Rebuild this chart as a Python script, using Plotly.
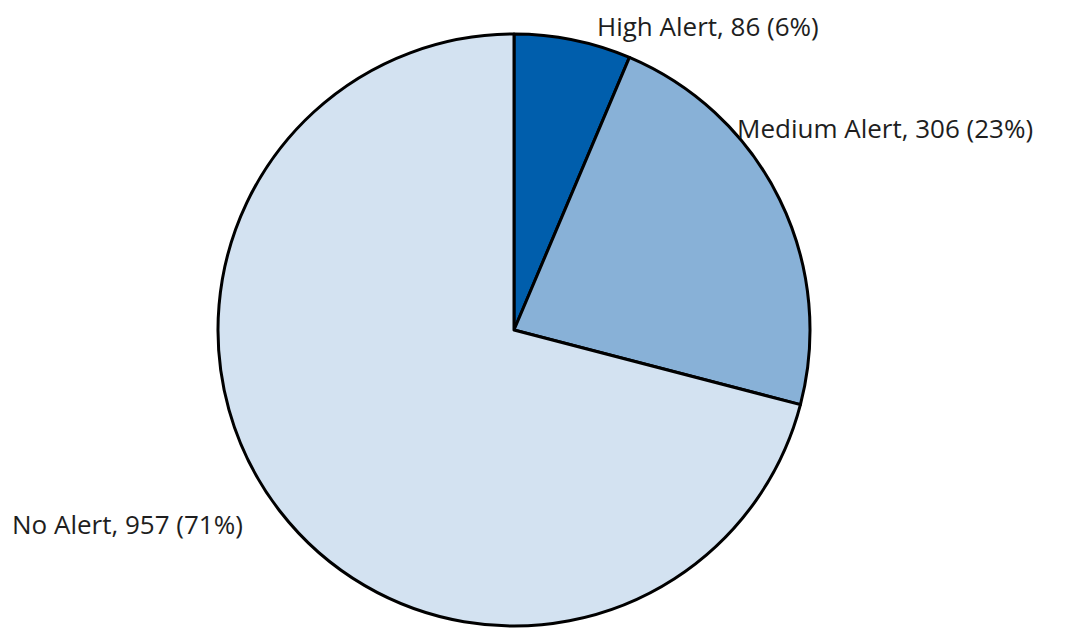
import plotly.graph_objects as go

# data
labels = ["High Alert", "Medium Alert", "No Alert"]
counts = [86, 306, 957]
percents = [6, 23, 71]
colors = ["#005EAC", "#88B1D7", "#D3E2F1"]

W, H = 1066, 630
OFF = 8  # page body margin shifts the figure

def px_x(v):
    return (v - OFF) / W

def px_y(v):
    return 1 - (v - OFF) / H

fig = go.Figure()
fig.add_trace(go.Pie(
    labels=labels,
    values=counts,
    sort=False,
    direction="clockwise",
    rotation=0,
    textinfo="none",
    hoverinfo="label+value+percent",
    marker=dict(colors=colors, line=dict(color="black", width=3)),
    domain=dict(x=[px_x(218), px_x(810)], y=[px_y(626), px_y(34)]),
    showlegend=False,
))

# label placement (pixel positions of the text, left-anchored)
label_pos = [(595, 26), (735, 128), (10, 524)]
for name, n, p, (lx, ly) in zip(labels, counts, percents, label_pos):
    fig.add_annotation(
        x=px_x(lx), y=px_y(ly), xref="paper", yref="paper",
        xanchor="left", yanchor="middle",
        text=f"{name}, {n} ({p}%)",
        showarrow=False,
        font=dict(family="Open Sans", size=26, color="#1E1E1E"),
    )

fig.update_layout(
    width=W, height=H,
    margin=dict(l=0, r=0, t=0, b=0),
    paper_bgcolor="white",
    plot_bgcolor="white",
)

fig.write_html("out.html")
